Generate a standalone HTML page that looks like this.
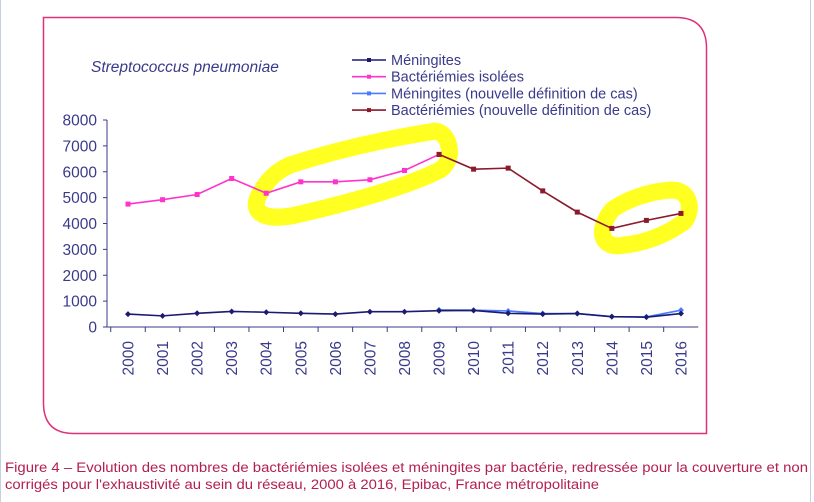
<!DOCTYPE html>
<html><head><meta charset="utf-8"><style>
html,body{margin:0;padding:0;background:#fff;width:814px;height:502px;overflow:hidden}
svg{display:block;font-family:"Liberation Sans",sans-serif}
</style></head><body>
<svg id="chart" width="814" height="502">
<rect x="0" y="0" width="1" height="502" fill="#c8d0e0"/>
<rect x="810" y="0" width="1" height="502" fill="#c8d0e0"/>
<path d="M43.5,17.5 H676 Q706.5,17.5 706.5,48 V433.5 H74 Q43.5,433.5 43.5,403 Z" fill="#fff" stroke="#e0307a" stroke-width="1.5"/>
<text x="91" y="72" font-size="15.5" font-style="italic" fill="#3a3a8a">Streptococcus pneumoniae</text>
<g id="legend"></g>
<g id="highlights">
<path d="M262,190 C245,215 268,222 300,214 C360,200 410,185 440,170 C458,158 448,126 430,132 C380,140 330,152 290,165 C275,172 268,180 262,190 Z" fill="none" stroke="#ffff22" stroke-width="17" stroke-linejoin="round"/>
<path d="M612,210 C596,230 600,250 625,245 C650,242 670,232 684,222 C694,210 690,190 672,190 C650,191 625,200 612,210 Z" fill="none" stroke="#ffff22" stroke-width="17"/>
</g>
<g id="axes"></g>
<g id="series"></g>
<text x="5" y="472" font-size="13.5" fill="#b3204f" textLength="803" lengthAdjust="spacingAndGlyphs">Figure 4 – Evolution des nombres de bactériémies isolées et méningites par bactérie, redressée pour la couverture et non</text>
<text x="5" y="489" font-size="13.5" fill="#b3204f" textLength="594" lengthAdjust="spacingAndGlyphs">corrigés pour l'exhaustivité au sein du réseau, 2000 à 2016, Epibac, France métropolitaine</text>
</svg>
<script>
const years=[2000,2001,2002,2003,2004,2005,2006,2007,2008,2009,2010,2011,2012,2013,2014,2015,2016];
const yTicks=[0,1000,2000,3000,4000,5000,6000,7000,8000];
const meningites=[500,430,530,600,570,530,500,590,590,630,640,530,500,520,400,380,520];
const bactIsolees=[4750,4920,5120,5740,5170,5610,5610,5690,6050,6670,null,null,null,null,null,null,null];
const meningNew=[null,null,null,null,null,null,null,null,null,660,650,620,520,520,400,390,650];
const bactNew=[null,null,null,null,null,null,null,null,null,6670,6100,6140,5260,4440,3810,4120,4390];
const NS="http://www.w3.org/2000/svg";
const x0=128,dx=34.56,yBase=327,yTop=120;
const xs=i=>x0+i*dx;
const ys=v=>yBase-(v/8000)*(yBase-yTop);
function mk(tag,attrs,parent){const e=document.createElementNS(NS,tag);for(const k in attrs)e.setAttribute(k,attrs[k]);parent.appendChild(e);return e;}
const axes=document.getElementById('axes');
const axisCol="#3a3a8a";
let a=mk('line',{x1:107,y1:yTop,x2:107,y2:yBase,stroke:axisCol,'stroke-width':1},axes);


a=mk('line',{x1:107,y1:yBase,x2:xs(16)+dx/2,y2:yBase,stroke:axisCol,'stroke-width':1},axes);


yTicks.forEach(v=>{
  const t=mk('line',{x1:103,y1:ys(v),x2:107,y2:ys(v),stroke:axisCol},axes);
  
  
  const l=mk('text',{x:97,y:ys(v)+5.5,'font-size':15.5,fill:axisCol,'text-anchor':'end'},axes);
  l.textContent=v;
  
  
});
years.forEach((yr,i)=>{
  const tx=xs(i)-dx/2;
  const t=mk('line',{x1:tx,y1:yBase,x2:tx,y2:yBase+5,stroke:axisCol},axes);
  
  
  const l=mk('text',{x:0,y:0,'font-size':15.5,fill:axisCol,'text-anchor':'end',transform:`translate(${xs(i)+5.5},341) rotate(-90)`},axes);
  l.textContent=yr;
  
  
});
const series=document.getElementById('series');
function draw(data,color,name,marker){
  const pts=[];data.forEach((v,i)=>{if(v!==null)pts.push([xs(i),ys(v)]);});
  const p=mk('polyline',{points:pts.map(p=>p.join(',')).join(' '),fill:'none',stroke:color,'stroke-width':1.6},series);
  
  
  pts.forEach(([x,y])=>{
    let m;
    if(marker==='sq') m=mk('rect',{x:x-2.5,y:y-2.5,width:5,height:5,fill:color},series);
    else m=mk('path',{d:`M${x-3},${y} L${x},${y-3} L${x+3},${y} L${x},${y+3} Z`,fill:color},series);
    
    
  });
}
draw(bactIsolees,'#ff33cc','bacteriemies-isolees','sq');
draw(bactNew,'#8b1a2a','bacteriemies-nouvelle-def','sq');
draw(meningNew,'#4a7bff','meningites-nouvelle-def','dm');
draw(meningites,'#1a1a70','meningites','dm');
const legend=document.getElementById('legend');
const items=[['Méningites','#1a1a70'],['Bactériémies isolées','#ff33cc'],['Méningites (nouvelle définition de cas)','#4a7bff'],['Bactériémies (nouvelle définition de cas)','#8b1a2a']];
items.forEach(([lab,c],i)=>{
  const y=60+i*16.7;
  const g=mk('g',{},legend);
  
  
  mk('line',{x1:352,y1:y,x2:386,y2:y,stroke:c,'stroke-width':1.6},g);
  mk('rect',{x:367,y:y-2,width:4,height:4,fill:c},g);
  const t=mk('text',{x:391,y:y+5,'font-size':14.5,fill:'#3a3a8a'},g);
  t.textContent=lab;
});
</script>
</body></html>
